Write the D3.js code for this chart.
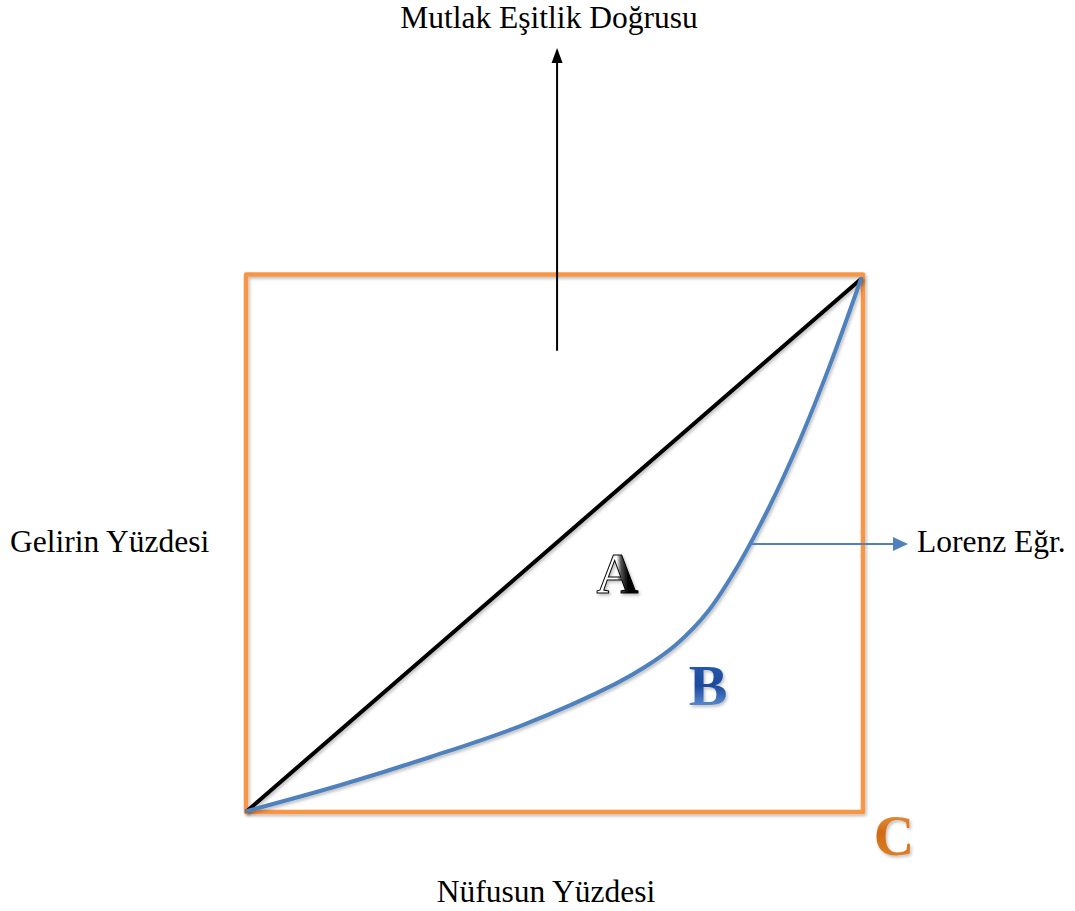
<!DOCTYPE html>
<html>
<head>
<meta charset="utf-8">
<script src="https://cdn.jsdelivr.net/npm/d3@7"></script>
<style>
  html, body { margin: 0; padding: 0; background: #ffffff; }
  svg { display: block; }
  text { font-family: "Liberation Serif", "Times New Roman", serif; }
</style>
</head>
<body>
<script>
// ---- data (percent) ----
const populationShare = [0, 15, 30, 45, 60, 65, 70, 75, 80, 85, 90, 95, 100];
const incomeShare     = [0, 4.8, 10.2, 16.2, 23.9, 27.2, 31.4, 37.4, 46.2, 57.0, 69.6, 84.0, 100];
const equalityLine    = [[0, 0], [100, 100]];
const arrowIncome = 50.2;   // where the "Lorenz Eğr." pointer leaves the curve
const titleLabel  = "Mutlak Eşitlik Doğrusu";
const yLabel      = "Gelirin Yüzdesi";
const xLabel      = "Nüfusun Yüzdesi";
const curveLabel  = "Lorenz Eğr.";
const areaLabels  = ["A", "B", "C"];

const W = 1075, H = 911;
const svg = d3.select("body").append("svg").attr("width", W).attr("height", H);
const defs = svg.append("defs");

const x = d3.scaleLinear().domain([0, 100]).range([247, 861]);
const y = d3.scaleLinear().domain([0, 100]).range([811, 279]);

// filters & gradients
const sh = defs.append("filter").attr("id", "shadow").attr("x", "-10%").attr("y", "-10%").attr("width", "120%").attr("height", "120%");
sh.append("feDropShadow").attr("dx", 1.5).attr("dy", 2).attr("stdDeviation", 1.5).attr("flood-color", "#000").attr("flood-opacity", 0.25);

const gA = defs.append("linearGradient").attr("id", "gA").attr("x1", "0").attr("y1", "0").attr("x2", "1").attr("y2", "0");
gA.append("stop").attr("offset", "0%").attr("stop-color", "#ffffff");
gA.append("stop").attr("offset", "48%").attr("stop-color", "#ffffff");
gA.append("stop").attr("offset", "58%").attr("stop-color", "#555555");
gA.append("stop").attr("offset", "75%").attr("stop-color", "#000000");
gA.append("stop").attr("offset", "100%").attr("stop-color", "#000000");

const gB = defs.append("linearGradient").attr("id", "gB").attr("x1", "0").attr("y1", "0").attr("x2", "0").attr("y2", "1");
gB.append("stop").attr("offset", "0%").attr("stop-color", "#2a5fb5");
gB.append("stop").attr("offset", "50%").attr("stop-color", "#1c4a9c");
gB.append("stop").attr("offset", "100%").attr("stop-color", "#7fb0ec");

const gC = defs.append("linearGradient").attr("id", "gC").attr("x1", "0").attr("y1", "0").attr("x2", "0").attr("y2", "1");
gC.append("stop").attr("offset", "0%").attr("stop-color", "#f0a050");
gC.append("stop").attr("offset", "45%").attr("stop-color", "#d06a12");
gC.append("stop").attr("offset", "100%").attr("stop-color", "#e08a30");

// orange frame
svg.append("rect")
  .attr("x", x(0) - 1).attr("y", y(100) - 4.5)
  .attr("width", x(100) - x(0) + 3).attr("height", y(0) - y(100) + 5.5)
  .attr("fill", "none").attr("stroke", "#f79646").attr("stroke-width", 4.5)
  .attr("stroke-linejoin", "round").attr("filter", "url(#shadow)");

// equality diagonal
svg.append("path")
  .datum(equalityLine)
  .attr("d", d3.line().x(d => x(d[0])).y(d => y(d[1])))
  .attr("fill", "none").attr("stroke", "#000").attr("stroke-width", 4)
  .attr("stroke-linecap", "round").attr("filter", "url(#shadow)");

// Lorenz curve
const lorenz = populationShare.map((p, i) => [p, incomeShare[i]]);
const lorenzPath = svg.append("path")
  .datum(lorenz)
  .attr("d", d3.line().x(d => x(d[0])).y(d => y(d[1])).curve(d3.curveCatmullRom.alpha(0.5)))
  .attr("fill", "none").attr("stroke", "#4f81bd").attr("stroke-width", 4)
  .attr("stroke-linecap", "round").attr("filter", "url(#shadow)");

// Mutlak Eşitlik Doğrusu arrow
const ax = x(50.5);
svg.append("line").attr("x1", ax).attr("x2", ax).attr("y1", y(86.5)).attr("y2", 60)
  .attr("stroke", "#000").attr("stroke-width", 2);
svg.append("path").attr("d", `M${ax},48 L${ax - 5.5},63 L${ax + 5.5},63 Z`).attr("fill", "#000");
svg.append("text").attr("x", 549).attr("y", 28).attr("text-anchor", "middle")
  .attr("font-size", 31.5).attr("fill", "#000").text(titleLabel);

// Lorenz arrow: find the curve point at the pointer's income level
const ly = y(arrowIncome);
const node = lorenzPath.node();
const total = node.getTotalLength();
let lx = x(80);
for (let s = 0; s <= total; s += 0.5) {
  const p = node.getPointAtLength(s);
  if (p.y <= ly) { lx = p.x; break; }
}
svg.append("line").attr("x1", lx).attr("x2", 896).attr("y1", ly).attr("y2", ly)
  .attr("stroke", "#4f81bd").attr("stroke-width", 2);
svg.append("path").attr("d", `M908,${ly} L893,${ly - 7} L893,${ly + 7} Z`).attr("fill", "#4f81bd");
svg.append("text").attr("x", 917).attr("y", 552).attr("font-size", 31.5).attr("fill", "#000").text(curveLabel);

// axis labels
svg.append("text").attr("x", 10).attr("y", 552).attr("font-size", 31.5).attr("fill", "#000").text(yLabel);
svg.append("text").attr("x", 546).attr("y", 902).attr("text-anchor", "middle")
  .attr("font-size", 31.5).attr("fill", "#000").text(xLabel);

// area letters
svg.append("text").attr("x", 617.5).attr("y", 593).attr("text-anchor", "middle")
  .attr("font-size", 58).attr("font-weight", "bold").attr("fill", "url(#gA)")
  .attr("stroke", "#000").attr("stroke-width", 1).attr("filter", "url(#shadow)").text(areaLabels[0]);
svg.append("text").attr("x", 708).attr("y", 705).attr("text-anchor", "middle")
  .attr("font-size", 58).attr("font-weight", "bold").attr("fill", "url(#gB)")
  .attr("filter", "url(#shadow)").text(areaLabels[1]);
svg.append("text").attr("x", 894).attr("y", 855).attr("text-anchor", "middle")
  .attr("font-size", 56).attr("font-weight", "bold").attr("fill", "url(#gC)")
  .attr("filter", "url(#shadow)").text(areaLabels[2]);
</script>
</body>
</html>
